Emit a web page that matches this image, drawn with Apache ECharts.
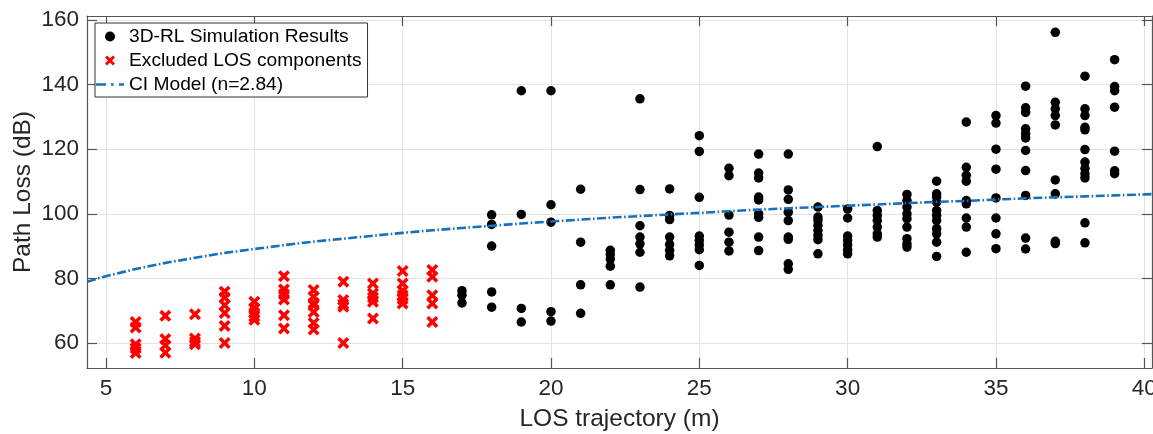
<!DOCTYPE html>
<html>
<head>
<meta charset="utf-8">
<script src="https://cdn.jsdelivr.net/npm/echarts@6/dist/echarts.min.js"></script>
<style>
html,body{margin:0;padding:0;background:#fff;}
#chart{width:1153px;height:434px;}
</style>
</head>
<body>
<div id="chart"></div>
<script>
// ---- Data ----
const xTicks = [5, 10, 15, 20, 25, 30, 35, 40];
const yTicks = [60, 80, 100, 120, 140, 160];

// 3D-RL simulation results (black dots): distance (m) and path loss (dB)
const simDistance = [
  17,17,17,
  18,18,18,18,18,
  19,19,19,19,
  20,20,20,20,20,
  21,21,21,21,
  22,22,22,22,22,
  23,23,23,23,23,23,23,
  24,24,24,24,24,24,24,
  25,25,25,25,25,25,25,25,
  26,26,26,26,26,26,
  27,27,27,27,27,27,27,27,27,
  28,28,28,28,28,28,28,28,28,
  29,29,29,29,29,29,29,29,
  30,30,30,30,30,30,30,
  31,31,31,31,31,31,31,
  32,32,32,32,32,32,32,32,32,
  33,33,33,33,33,33,33,33,33,33,33,
  34,34,34,34,34,34,34,34,34,
  35,35,35,35,35,35,35,35,
  36,36,36,36,36,36,36,36,36,36,36,
  37,37,37,37,37,37,37,37,37,
  38,38,38,38,38,38,38,38,38,38,38,38,
  39,39,39,39,39,39,39
];
const simPathLoss = [
  76.2, 74.8, 72.4,
  99.7, 96.7, 90.0, 75.8, 71.1,
  138.1, 99.8, 70.7, 66.5,
  138.1, 102.8, 97.4, 69.7, 66.8,
  107.6, 91.2, 78.0, 69.2,
  88.7, 87.4, 86.0, 83.8, 78.0,
  135.6, 107.5, 96.3, 92.8, 90.7, 88.1, 77.3,
  107.7, 99.5, 98.2, 92.8, 90.5, 88.7, 87.0,
  124.2, 119.3, 105.1, 93.1, 91.8, 90.4, 88.9, 84.0,
  114.1, 111.8, 99.6, 94.3, 91.2, 88.5,
  118.5, 112.6, 111.1, 105.2, 104.3, 100.0, 98.9, 92.8, 88.6,
  118.5, 107.4, 104.5, 100.5, 97.9, 92.8, 92.1, 84.5, 82.8,
  102.1, 99.0, 97.9, 96.4, 94.8, 93.3, 92.0, 87.6,
  101.5, 98.7, 93.1, 91.8, 90.4, 88.9, 87.6,
  120.8, 101.0, 99.5, 97.9, 95.9, 93.8, 92.8,
  106.0, 104.1, 102.1, 100.0, 98.5, 95.9, 92.3, 90.7, 89.7,
  110.1, 106.2, 105.2, 103.6, 101.0, 99.5, 97.9, 95.4, 93.8, 91.2, 86.8,
  128.4, 114.4, 111.9, 110.1, 104.1, 103.1, 98.7, 95.9, 88.1,
  130.4, 128.1, 120.0, 113.8, 104.9, 98.7, 93.8, 89.2,
  139.5, 132.8, 131.4, 126.3, 124.8, 123.5, 119.6, 113.4, 105.7, 92.5, 89.1,
  156.2, 134.5, 132.5, 130.4, 127.5, 110.5, 106.2, 91.5, 90.8,
  142.6, 132.5, 130.4, 126.8, 126.0, 119.9, 116.0, 114.0, 112.4, 111.1, 97.2, 91.0,
  147.7, 139.4, 138.1, 133.0, 119.4, 113.3, 112.4
];

// Excluded LOS components (red crosses)
const exclDistance = [
  6,6,6,6,6,
  7,7,7,7,
  8,8,8,8,
  9,9,9,9,9,9,
  10,10,10,10,10,
  11,11,11,11,11,11,
  12,12,12,12,12,12,12,
  13,13,13,13,13,
  14,14,14,14,14,
  15,15,15,15,15,15,
  16,16,16,16,16
];
const exclPathLoss = [
  66.5, 64.8, 59.6, 58.4, 56.9,
  68.4, 61.2, 59.3, 57.0,
  68.9, 61.4, 60.4, 59.6,
  75.9, 74.1, 71.7, 69.3, 65.3, 60.0,
  72.8, 70.8, 69.3, 68.2, 67.2,
  80.7, 76.6, 75.1, 73.5, 68.6, 64.5,
  76.4, 74.3, 72.4, 71.7, 69.6, 66.2, 64.2,
  79.0, 73.3, 72.0, 71.2, 60.0,
  78.4, 75.3, 74.1, 72.8, 67.6,
  82.3, 78.4, 76.2, 74.8, 73.6, 72.2,
  82.6, 80.5, 74.8, 72.2, 66.5
];

// CI model curve
const ciDistance = [4.36, 5, 6, 7, 8, 9, 10, 11, 12, 13, 14, 15, 16, 17, 18, 19, 20, 21, 22, 23, 24, 25, 26, 27, 28, 29, 30, 31, 32, 33, 34, 35, 36, 37, 38, 39, 40, 40.26];
const ciPathLoss = [79.0, 80.7, 82.9, 84.8, 86.4, 87.9, 89.1, 90.3, 91.4, 92.3, 93.2, 94.1, 94.9, 95.6, 96.3, 97.0, 97.6, 98.2, 98.8, 99.3, 99.8, 100.3, 100.8, 101.3, 101.7, 102.1, 102.5, 102.9, 103.3, 103.7, 104.0, 104.4, 104.8, 105.1, 105.4, 105.7, 106.0, 106.1];

const seriesNames = ['3D-RL Simulation Results', 'Excluded LOS components', 'CI Model (n=2.84)'];
const xLabel = 'LOS trajectory (m)';
const yLabel = 'Path Loss (dB)';

// ---- Chart ----
const FONT = '"Liberation Sans", Arial, Helvetica, sans-serif';
const AX = '#262626';
const crossPath = 'path://M0,21L21,0L50,29L79,0L100,21L71,50L100,79L79,100L50,71L21,100L0,79L29,50Z';
// legend sample for the dash-dot line (box 28 x 10)
const dashDotIcon = 'path://M0,0L0.01,0L0,0.01Z M0,3.7H10V6.3H0Z M15,3.8H17.6V6.2H15Z M23,3.7H28V6.3H23Z M28,10L27.99,10L28,9.99Z';
const X_MIN = 4.36, X_MAX = 40.26, Y_MIN = 52.26, Y_MAX = 161.24;

const zip = (a, b) => a.map((v, i) => [v, b[i]]);

const chart = echarts.init(document.getElementById('chart'), null, {renderer: 'canvas'});

function mkX(pos, show) {
  return {
    type: 'value', position: pos, min: X_MIN, max: X_MAX,
    name: show ? xLabel : '', nameLocation: 'middle', nameGap: 39, nameMoveOverlap: false,
    nameTextStyle: {fontFamily: FONT, fontSize: 24.5, color: AX},
    axisLine: {show: true, onZero: false, lineStyle: {color: '#555', width: 1.2}},
    axisTick: {show: true, inside: true, length: 10, customValues: xTicks, lineStyle: {color: '#555', width: 1.2}},
    axisLabel: {show: show, customValues: xTicks, margin: 9, fontFamily: FONT, fontSize: 22.5, color: AX},
    splitLine: {show: show, lineStyle: {color: '#e3e3e3', width: 1}}
  };
}
function mkY(pos, show) {
  return {
    type: 'value', position: pos, min: Y_MIN, max: Y_MAX,
    name: show ? yLabel : '', nameLocation: 'middle', nameGap: 51, nameMoveOverlap: false,
    nameTextStyle: {fontFamily: FONT, fontSize: 24.5, color: AX},
    axisLine: {show: true, onZero: false, lineStyle: {color: '#555', width: 1.2}},
    axisTick: {show: true, inside: true, length: 10, customValues: yTicks, lineStyle: {color: '#555', width: 1.2}},
    axisLabel: {show: show, customValues: yTicks, margin: 8, fontFamily: FONT, fontSize: 22.5, color: AX},
    splitLine: {show: show, lineStyle: {color: '#e3e3e3', width: 1}}
  };
}

chart.setOption({
  animation: false,
  backgroundColor: '#fff',
  grid: {left: 87, right: 1, top: 16, bottom: 66, containLabel: false, outerBoundsMode: 'none'},
  xAxis: [mkX('bottom', true), mkX('top', false)],
  yAxis: [mkY('left', true), mkY('right', false)],
  legend: {
    orient: 'vertical', left: 95, top: 23,
    padding: [4, 6, 3, 1], itemGap: 5, itemWidth: 28, itemHeight: 10,
    backgroundColor: '#fff', borderColor: '#333', borderWidth: 1, borderRadius: 0,
    textStyle: {fontFamily: FONT, fontSize: 19.2, color: '#000'},
    data: [
      {name: seriesNames[0], icon: 'circle'},
      {name: seriesNames[1], icon: crossPath},
      {name: seriesNames[2], icon: dashDotIcon}
    ]
  },
  series: [
    {
      name: seriesNames[0], type: 'scatter', xAxisIndex: 0, yAxisIndex: 0,
      symbol: 'circle', symbolSize: 9.5,
      itemStyle: {color: '#000', opacity: 1},
      data: zip(simDistance, simPathLoss), z: 2
    },
    {
      name: seriesNames[1], type: 'scatter', xAxisIndex: 0, yAxisIndex: 0,
      symbol: crossPath, symbolSize: 12,
      itemStyle: {color: '#ff0000', opacity: 1},
      data: zip(exclDistance, exclPathLoss), z: 2
    },
    {
      name: seriesNames[2], type: 'line', xAxisIndex: 0, yAxisIndex: 0,
      showSymbol: false, symbol: 'none', smooth: false,
      lineStyle: {color: '#1a6fbd', width: 2.6, type: [9, 2.5, 1.6, 2.5]},
      itemStyle: {color: '#1a6fbd'},
      data: zip(ciDistance, ciPathLoss), z: 3
    }
  ]
});
</script>
</body>
</html>
